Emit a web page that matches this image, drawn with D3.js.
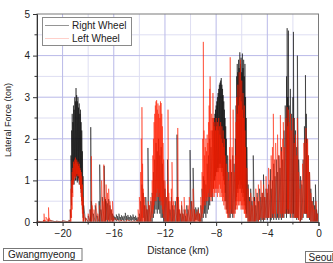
<!DOCTYPE html>
<head>
  <meta charset="utf-8">
  <script src="https://d3js.org/d3.v7.min.js"></script>
  <style>
    body {
      margin: 0;
      background: #fff;
    }

    text {
      font-family: "Liberation Sans", Arial, sans-serif;
      fill: #222;
    }

    .trace {
      fill: none;
      stroke-linejoin: miter;
    }
  </style>
</head>

<body>
  <svg id="chart" width="333" height="263"></svg>

  <script>
    // [distance km, low, high] envelope per bin
    var rightWheel = [
      [-22.0, 0, 0.02], [-21.5, 0, 0.03], [-21.1, 0, 0.05], [-20.5, 0, 0.02], [-20.0, 0, 0.03], [-19.5, 0, 0.05],
      [-19.40, 0, 0.3], [-19.35, 0.1, 1.6], [-19.30, 0.4, 2.2], [-19.25, 0.7, 2.6], [-19.20, 0.9, 2.4],
      [-19.15, 1.0, 2.8], [-19.10, 0.9, 2.7], [-19.05, 1.1, 3.0], [-19.00, 1.0, 2.9], [-18.95, 1.0, 3.22],
      [-18.90, 1.1, 3.05], [-18.85, 0.95, 2.9], [-18.80, 1.0, 3.0], [-18.75, 1.05, 2.75], [-18.70, 0.9, 2.85],
      [-18.65, 1.0, 2.6], [-18.60, 0.8, 2.7], [-18.55, 0.7, 2.4], [-18.50, 0.5, 2.2], [-18.45, 0.3, 1.7],
      [-18.40, 0.1, 1.1], [-18.35, 0, 0.4],
      [-18.2, 0, 0.1], [-18.0, 0, 0.15], [-17.85, 0, 0.3], [-17.8, 0, 2.28], [-17.75, 0, 0.5], [-17.6, 0, 0.2],
      [-17.45, 0, 0.4], [-17.3, 0, 0.15], [-17.15, 0, 0.5], [-17.1, 0, 1.38], [-17.0, 0, 0.3], [-16.9, 0, 0.6],
      [-16.75, 0, 1.35], [-16.65, 0, 0.55], [-16.6, 0.05, 0.5], [-16.5, 0, 0.45], [-16.4, 0.05, 0.55],
      [-16.3, 0, 0.4], [-16.2, 0.05, 0.3], [-16.1, 0, 0.2],
      [-16.0, 0.03, 0.15], [-15.9, 0.05, 0.12], [-15.8, 0.02, 0.18], [-15.7, 0.05, 0.14], [-15.6, 0.03, 0.2],
      [-15.5, 0.04, 0.12], [-15.4, 0.02, 0.16], [-15.3, 0.05, 0.13], [-15.2, 0.02, 0.15], [-15.1, 0.04, 0.22],
      [-15.0, 0.03, 0.14], [-14.9, 0.05, 0.17], [-14.8, 0.02, 0.12], [-14.7, 0.04, 0.16], [-14.6, 0.03, 0.13],
      [-14.5, 0.05, 0.18], [-14.4, 0.02, 0.12], [-14.3, 0.04, 0.15], [-14.2, 0.02, 0.1], [-14.1, 0, 0.12],
      [-14.0, 0, 0.2], [-13.9, 0, 0.5], [-13.8, 0, 0.9], [-13.7, 0.1, 0.7], [-13.6, 0, 0.4], [-13.5, 0, 0.6],
      [-13.4, 0, 0.3], [-13.33, 0, 1.78], [-13.25, 0, 0.4], [-13.1, 0, 0.5], [-13.0, 0, 0.7], [-12.9, 0.1, 1.2],
      [-12.8, 0.2, 1.5], [-12.7, 0.3, 1.9], [-12.6, 0.2, 1.7], [-12.5, 0.3, 2.0], [-12.4, 0.2, 1.6],
      [-12.3, 0.1, 1.8], [-12.2, 0.1, 1.4], [-12.1, 0, 1.0], [-12.0, 0, 0.8], [-11.9, 0, 0.6], [-11.8, 0, 1.5],
      [-11.7, 0, 0.5], [-11.6, 0, 0.3], [-11.5, 0, 0.6], [-11.4, 0, 0.4], [-11.3, 0, 0.3], [-11.2, 0, 0.5],
      [-11.06, 0, 2.1], [-11.0, 0, 0.6], [-10.9, 0, 0.3], [-10.8, 0, 0.2], [-10.7, 0, 0.4], [-10.6, 0, 0.2],
      [-10.5, 0, 0.3], [-10.4, 0, 0.15], [-10.3, 0, 0.4], [-10.2, 0, 0.3], [-10.04, 0, 1.73], [-9.95, 0, 0.5],
      [-9.8, 0, 1.3], [-9.7, 0, 0.3], [-9.6, 0.05, 0.35], [-9.5, 0.05, 0.3], [-9.4, 0.02, 0.35], [-9.3, 0, 0.2],
      [-9.2, 0, 0.4], [-9.1, 0, 0.8], [-9.0, 0.1, 1.1], [-8.9, 0.2, 1.0], [-8.8, 0.1, 0.9], [-8.7, 0.2, 1.4],
      [-8.6, 0.3, 1.6], [-8.5, 0.4, 2.0], [-8.4, 0.6, 1.8], [-8.3, 0.5, 2.2], [-8.2, 0.8, 2.4],
      [-8.15, 1.0, 2.5], [-8.1, 1.0, 2.6], [-8.05, 1.1, 2.7], [-8.0, 1.2, 2.8], [-7.95, 1.2, 2.9],
      [-7.9, 1.3, 3.0], [-7.85, 1.2, 3.1], [-7.8, 1.3, 3.2], [-7.75, 1.4, 3.3], [-7.7, 1.3, 3.35],
      [-7.65, 1.4, 3.4], [-7.6, 1.3, 3.46], [-7.55, 1.2, 3.3], [-7.5, 1.3, 3.2], [-7.45, 1.1, 3.05],
      [-7.4, 1.0, 2.9], [-7.35, 0.9, 2.7], [-7.3, 0.7, 2.5], [-7.25, 0.5, 2.3], [-7.2, 0.3, 2.0],
      [-7.1, 0.2, 1.6], [-7.0, 0.1, 1.2], [-6.9, 0.1, 1.5], [-6.8, 0.2, 1.2], [-6.7, 0.1, 1.6], [-6.6, 0.2, 1.4],
      [-6.5, 0.3, 2.0], [-6.45, 0.5, 2.8], [-6.4, 0.6, 3.5], [-6.35, 0.8, 3.8], [-6.3, 0.7, 3.6],
      [-6.25, 0.9, 3.9], [-6.2, 0.8, 3.7], [-6.15, 1.0, 4.08], [-6.1, 0.8, 3.8], [-6.05, 0.9, 3.95],
      [-6.0, 0.7, 3.6], [-5.95, 0.8, 4.05], [-5.9, 0.6, 3.7], [-5.85, 0.7, 3.9], [-5.8, 0.5, 3.5],
      [-5.75, 0.4, 3.8], [-5.7, 0.3, 3.0], [-5.65, 0.2, 2.5], [-5.6, 0.1, 1.8], [-5.5, 0, 0.9], [-5.4, 0, 0.6],
      [-5.3, 0, 0.8], [-5.2, 0, 0.5], [-5.1, 0, 1.6], [-5.0, 0, 0.6], [-4.9, 0, 0.4], [-4.8, 0, 0.7],
      [-4.7, 0, 0.5], [-4.6, 0.05, 0.8], [-4.5, 0, 0.6], [-4.4, 0.05, 0.7], [-4.3, 0, 1.14], [-4.2, 0.05, 0.6],
      [-4.1, 0.1, 0.8], [-4.0, 0.05, 0.7], [-3.9, 0.1, 0.9], [-3.76, 0, 1.27], [-3.7, 0.05, 0.8],
      [-3.6, 0.1, 1.0], [-3.5, 0.05, 1.4], [-3.4, 0.1, 1.1], [-3.3, 0.05, 1.5], [-3.2, 0.1, 1.2],
      [-3.1, 0.05, 1.6], [-3.0, 0.1, 1.3], [-2.9, 0.05, 1.8], [-2.8, 0.1, 1.5], [-2.7, 0.1, 2.2],
      [-2.6, 0.2, 2.8], [-2.5, 0.1, 3.5], [-2.45, 0.2, 4.66], [-2.4, 0.3, 3.0], [-2.35, 0.2, 4.6],
      [-2.3, 0.2, 2.8], [-2.2, 0.1, 3.2], [-2.1, 0.2, 2.6], [-2.0, 0.1, 3.0], [-1.96, 0.2, 4.57],
      [-1.9, 0.1, 2.5], [-1.8, 0.1, 2.2], [-1.7, 0.05, 1.8], [-1.65, 0.1, 4.0], [-1.55, 0.05, 1.5],
      [-1.4, 0, 1.1], [-1.3, 0.05, 0.9], [-1.2, 0.1, 1.5], [-1.1, 0.2, 2.3], [-1.02, 0.2, 3.53],
      [-0.95, 0.2, 2.6], [-0.9, 0.1, 2.0], [-0.8, 0.1, 1.6], [-0.7, 0.05, 1.2], [-0.6, 0, 0.8],
      [-0.5, 0, 0.5], [-0.4, 0, 0.6], [-0.3, 0, 0.4], [-0.24, 0, 0.9], [-0.15, 0, 0.3], [-0.05, 0, 0.2],
      [0, 0, 0.05]
    ];

    var leftWheel = [
      [-22.0, 0, 0.02], [-21.5, 0, 0.05], [-21.45, 0, 0.2], [-21.4, 0, 0.05], [-21.3, 0, 0.12],
      [-21.15, 0, 0.08], [-21.1, 0, 0.35], [-21.05, 0, 0.1], [-20.9, 0, 0.03], [-20.5, 0, 0.02],
      [-20.0, 0, 0.03], [-19.5, 0, 0.04],
      [-19.4, 0, 0.3], [-19.35, 0, 0.8], [-19.3, 0.1, 1.0], [-19.25, 0.3, 1.2], [-19.2, 0.6, 1.3],
      [-19.15, 0.9, 1.45], [-19.1, 1.0, 1.4], [-19.05, 1.1, 1.5], [-19.0, 1.05, 1.55], [-18.95, 1.1, 1.45],
      [-18.9, 1.15, 1.5], [-18.85, 1.1, 1.4], [-18.8, 1.15, 1.45], [-18.75, 1.1, 1.35], [-18.7, 1.0, 1.4],
      [-18.65, 0.9, 1.3], [-18.6, 0.8, 1.25], [-18.55, 0.6, 1.2], [-18.5, 0.4, 1.1], [-18.45, 0.2, 0.9],
      [-18.4, 0, 0.6], [-18.35, 0, 0.2],
      [-18.2, 0, 0.1], [-18.0, 0, 0.2], [-17.85, 0, 0.3], [-17.75, 0, 1.58], [-17.7, 0, 0.4],
      [-17.55, 0, 0.3], [-17.4, 0, 0.45], [-17.25, 0, 0.2], [-17.1, 0, 0.4], [-16.95, 0, 1.0],
      [-16.85, 0, 0.5], [-16.78, 0, 1.38], [-16.7, 0, 0.6], [-16.6, 0, 0.9], [-16.5, 0.05, 0.7],
      [-16.4, 0, 0.8], [-16.3, 0, 0.5], [-16.2, 0, 0.3], [-16.1, 0, 0.5], [-16.0, 0, 0.1],
      [-15.5, 0, 0.04], [-15.0, 0, 0.05], [-14.5, 0, 0.03], [-14.2, 0, 0.05],
      [-14.1, 0, 0.3], [-14.0, 0, 0.6], [-13.9, 0, 1.2], [-13.85, 0, 2.0], [-13.8, 0.1, 2.76],
      [-13.75, 0, 1.4], [-13.7, 0, 0.8], [-13.6, 0, 0.6], [-13.5, 0, 0.4], [-13.4, 0, 0.3], [-13.3, 0, 0.5],
      [-13.2, 0, 0.4], [-13.1, 0, 0.6], [-13.0, 0.1, 1.0], [-12.95, 0.2, 1.6], [-12.9, 0.3, 2.0],
      [-12.85, 0.4, 2.4], [-12.8, 0.5, 2.6], [-12.75, 0.6, 2.8], [-12.7, 0.5, 2.9], [-12.65, 0.7, 2.93],
      [-12.6, 0.6, 2.7], [-12.55, 0.8, 2.85], [-12.5, 0.6, 2.6], [-12.45, 0.7, 2.8], [-12.4, 0.5, 2.5],
      [-12.35, 0.6, 2.9], [-12.3, 0.4, 2.86], [-12.25, 0.5, 2.6], [-12.2, 0.3, 2.3], [-12.15, 0.2, 1.9],
      [-12.1, 0.1, 1.5], [-12.0, 0, 1.0], [-11.9, 0, 0.6], [-11.8, 0, 0.9], [-11.76, 0, 2.7],
      [-11.7, 0, 0.7], [-11.6, 0, 0.5], [-11.5, 0, 0.8], [-11.45, 0, 1.44], [-11.35, 0, 0.5],
      [-11.25, 0, 0.4], [-11.1, 0, 0.6], [-11.0, 0, 2.26], [-10.95, 0, 0.6], [-10.85, 0, 0.3],
      [-10.7, 0, 0.5], [-10.6, 0, 0.2], [-10.5, 0, 0.6], [-10.4, 0, 0.3], [-10.3, 0, 0.2], [-10.2, 0, 0.4],
      [-10.1, 0, 0.6], [-10.0, 0, 0.3], [-9.9, 0, 0.5], [-9.8, 0, 0.8], [-9.7, 0, 0.3], [-9.6, 0, 0.2],
      [-9.5, 0, 0.25], [-9.4, 0, 0.3], [-9.3, 0, 0.2], [-9.2, 0, 0.6], [-9.1, 0.1, 1.2], [-9.05, 0.2, 2.0],
      [-9.0, 0.3, 4.33], [-8.95, 0.4, 2.2], [-8.9, 0.5, 1.6], [-8.85, 0.4, 1.8], [-8.8, 0.6, 2.0],
      [-8.75, 0.5, 1.7], [-8.7, 0.6, 2.1], [-8.65, 0.5, 1.9], [-8.6, 0.7, 2.4], [-8.55, 0.6, 2.8],
      [-8.5, 0.8, 3.2], [-8.47, 0.6, 3.5], [-8.4, 0.5, 2.2], [-8.35, 0.6, 2.6], [-8.3, 0.7, 2.5],
      [-8.25, 0.6, 3.1], [-8.2, 0.8, 2.5], [-8.15, 0.6, 2.3], [-8.1, 0.7, 2.4], [-8.05, 0.8, 2.2],
      [-8.0, 0.7, 2.5], [-7.95, 0.8, 2.3], [-7.9, 0.6, 2.4], [-7.85, 0.8, 2.2], [-7.8, 0.7, 2.5],
      [-7.75, 0.9, 2.3], [-7.7, 0.6, 2.1], [-7.65, 0.8, 2.4], [-7.6, 0.6, 2.0], [-7.55, 0.7, 2.3],
      [-7.5, 0.5, 1.9], [-7.45, 0.6, 2.2], [-7.4, 0.4, 1.8], [-7.35, 0.5, 2.0], [-7.3, 0.3, 1.6],
      [-7.2, 0.2, 1.4], [-7.1, 0.1, 1.2], [-7.0, 0.1, 1.0], [-6.95, 0.2, 1.8], [-6.9, 0.3, 3.96],
      [-6.85, 0.2, 1.5], [-6.75, 0.2, 1.8], [-6.67, 0.2, 2.7], [-6.6, 0.1, 1.2], [-6.5, 0.2, 1.6],
      [-6.45, 0.3, 2.4], [-6.4, 0.4, 3.0], [-6.35, 0.3, 2.6], [-6.3, 0.5, 3.3], [-6.25, 0.4, 2.8],
      [-6.2, 0.5, 3.6], [-6.15, 0.4, 3.0], [-6.1, 0.5, 3.9], [-6.05, 0.3, 2.9], [-6.0, 0.4, 3.4],
      [-5.95, 0.3, 2.7], [-5.9, 0.4, 3.1], [-5.85, 0.3, 2.5], [-5.8, 0.2, 2.8], [-5.75, 0.2, 2.2],
      [-5.7, 0.1, 1.8], [-5.6, 0.1, 1.3], [-5.5, 0, 0.8], [-5.4, 0, 0.5], [-5.3, 0, 0.7], [-5.2, 0, 0.4],
      [-5.1, 0, 0.6], [-5.0, 0, 0.5], [-4.9, 0, 0.8], [-4.8, 0.05, 0.6], [-4.7, 0, 0.9], [-4.6, 0.05, 0.5],
      [-4.5, 0.1, 1.0], [-4.4, 0.05, 0.7], [-4.3, 0.1, 0.9], [-4.2, 0.05, 0.6], [-4.1, 0.1, 1.1],
      [-4.0, 0.1, 0.8], [-3.9, 0.1, 1.3], [-3.8, 0.1, 1.0], [-3.7, 0.1, 1.6], [-3.6, 0.2, 1.8],
      [-3.53, 0.1, 2.6], [-3.45, 0.2, 1.5], [-3.35, 0.1, 1.9], [-3.2, 0.2, 2.1], [-3.1, 0.1, 1.6],
      [-2.98, 0.2, 2.57], [-2.9, 0.1, 1.7], [-2.8, 0.2, 2.0], [-2.75, 0.1, 2.4], [-2.65, 0.2, 1.8],
      [-2.55, 0.2, 2.5], [-2.45, 0.3, 2.76], [-2.4, 0.2, 2.3], [-2.35, 0.3, 2.7], [-2.3, 0.2, 2.4],
      [-2.2, 0.2, 2.6], [-2.1, 0.1, 2.2], [-2.0, 0.2, 2.5], [-1.9, 0.1, 1.9], [-1.8, 0.1, 2.1],
      [-1.7, 0.1, 1.6], [-1.65, 0.1, 2.5], [-1.55, 0.05, 1.2], [-1.45, 0, 0.8], [-1.35, 0.05, 1.0],
      [-1.25, 0.1, 1.4], [-1.15, 0.2, 1.9], [-1.05, 0.2, 2.0], [-0.98, 0.2, 2.26], [-0.9, 0.2, 1.9],
      [-0.85, 0.1, 2.0], [-0.8, 0.1, 1.6], [-0.7, 0.1, 1.2], [-0.6, 0, 0.7], [-0.5, 0, 0.5],
      [-0.4, 0, 0.4], [-0.3, 0, 0.3], [-0.2, 0, 0.5], [-0.1, 0, 0.2], [0, 0, 0.05]
    ];

    var xMajor = [-20, -16, -12, -8, -4, 0];
    var xMinor = [-22, -18, -14, -10, -6, -2];
    var yMajor = [0, 1, 2, 3, 4, 5];
    var yMinor = [0.5, 1.5, 2.5, 3.5, 4.5];
    var seriesNames = ["Right Wheel", "Left Wheel"];
    var seriesColors = ["#000", "#ff1e00"];
    var endLabels = ["Gwangmyeong", "Seoul"];

    var svg = d3.select("#chart"),
      plotL = 37, plotR = 318.5, plotT = 14, plotB = 222;

    var x = d3.scaleLinear().domain([-22, 0]).range([plotL, plotR]);
    var y = d3.scaleLinear().domain([0, 5]).range([plotB, plotT]);

    // grid
    var grid = svg.append("g");
    grid.selectAll(".vmin").data(xMinor.filter(d => d > -22)).join("line")
      .attr("x1", d => x(d)).attr("x2", d => x(d)).attr("y1", plotT).attr("y2", plotB)
      .attr("stroke", "#dedef2").attr("stroke-width", 1);
    grid.selectAll(".hmin").data(yMinor).join("line")
      .attr("y1", d => y(d)).attr("y2", d => y(d)).attr("x1", plotL).attr("x2", plotR)
      .attr("stroke", "#dedef2").attr("stroke-width", 1);
    grid.selectAll(".vmaj").data(xMajor.filter(d => d < 0)).join("line")
      .attr("x1", d => x(d)).attr("x2", d => x(d)).attr("y1", plotT).attr("y2", plotB)
      .attr("stroke", "#b9b9e8").attr("stroke-width", 1);
    grid.selectAll(".hmaj").data(yMajor.filter(d => d > 0 && d < 5)).join("line")
      .attr("y1", d => y(d)).attr("y2", d => y(d)).attr("x1", plotL).attr("x2", plotR)
      .attr("stroke", "#b9b9e8").attr("stroke-width", 1);

    // traces: each bin drawn as a low -> high stroke
    function zigzag(bins) {
      var pts = [];
      bins.forEach(b => {
        pts.push({ k: b[0], v: b[1] });
        pts.push({ k: b[0], v: b[2] });
      });
      return pts;
    }

    var line = d3.line()
      .x(d => x(d.k))
      .y(d => y(d.v));

    svg.append("path")
      .attr("class", "trace")
      .attr("d", line(zigzag(rightWheel)))
      .attr("stroke", seriesColors[0])
      .attr("stroke-width", 0.5);

    svg.append("path")
      .attr("class", "trace")
      .attr("d", line(zigzag(leftWheel)))
      .attr("stroke", seriesColors[1])
      .attr("stroke-width", 0.5);

    // frame
    svg.append("rect")
      .attr("x", plotL).attr("y", plotT)
      .attr("width", plotR - plotL).attr("height", plotB - plotT)
      .attr("fill", "none").attr("stroke", "#7a7a7a").attr("stroke-width", 1);

    // axes
    var xAxis = svg.append("g")
      .attr("transform", "translate(0," + plotB + ")")
      .call(d3.axisBottom(x).tickValues(xMajor).tickSize(4).tickPadding(4).tickFormat(d3.format("d")));
    xAxis.append("g").selectAll("line").data(xMinor).join("line")
      .attr("x1", d => x(d)).attr("x2", d => x(d)).attr("y1", 0).attr("y2", 2.5)
      .attr("stroke", "#333");

    var yAxis = svg.append("g")
      .attr("transform", "translate(" + plotL + ",0)")
      .call(d3.axisLeft(y).tickValues(yMajor).tickSize(4).tickPadding(3).tickFormat(d3.format("d")));
    yAxis.append("g").selectAll("line").data(yMinor).join("line")
      .attr("y1", d => y(d)).attr("y2", d => y(d)).attr("x1", 0).attr("x2", -2.5)
      .attr("stroke", "#333");

    svg.selectAll(".domain").attr("stroke", "#333");
    svg.selectAll(".tick line").attr("stroke", "#333");
    xAxis.selectAll(".tick text").attr("font-size", 10).attr("font-family", "Liberation Sans, Arial").attr("fill", "#222");
    yAxis.selectAll(".tick text").attr("font-size", 10).attr("font-family", "Liberation Sans, Arial").attr("fill", "#222");

    // titles
    svg.append("text")
      .attr("transform", "translate(11,120) rotate(-90)")
      .attr("text-anchor", "middle")
      .attr("font-size", 9)
      .text("Lateral Force (ton)");

    svg.append("text")
      .attr("x", 178).attr("y", 254)
      .attr("text-anchor", "middle")
      .attr("font-size", 10)
      .text("Distance (km)");

    // legend
    var legend = svg.append("g");
    legend.append("rect")
      .attr("x", 42.5).attr("y", 17.5).attr("width", 89).attr("height", 28)
      .attr("fill", "#fff").attr("stroke", "#8a8a8a");

    var item = legend.selectAll(".item").data(seriesNames).join("g")
      .attr("transform", (d, i) => "translate(0," + (25.5 + i * 13) + ")");
    item.append("line")
      .attr("x1", 45).attr("x2", 69).attr("y1", 0).attr("y2", 0)
      .attr("stroke", (d, i) => seriesColors[i]).attr("stroke-width", 0.6)
      .attr("stroke-opacity", (d, i) => i ? 0.35 : 0.7);
    item.append("text")
      .attr("x", 72).attr("y", 3.5)
      .attr("font-size", 10)
      .text(d => d);

    // end-of-route labels
    var ends = svg.selectAll(".end").data(endLabels).join("g");
    ends.append("rect")
      .attr("x", (d, i) => i ? 305.5 : 3.5)
      .attr("y", (d, i) => i ? 251.5 : 248.5)
      .attr("width", (d, i) => i ? 40 : 78.5)
      .attr("height", (d, i) => i ? 11 : 12)
      .attr("fill", "#fff").attr("stroke", "#777");
    ends.append("text")
      .attr("x", (d, i) => i ? 308.5 : 8)
      .attr("y", (d, i) => i ? 260.5 : 258)
      .attr("font-size", 10)
      .text(d => d);
  </script>
</body>
